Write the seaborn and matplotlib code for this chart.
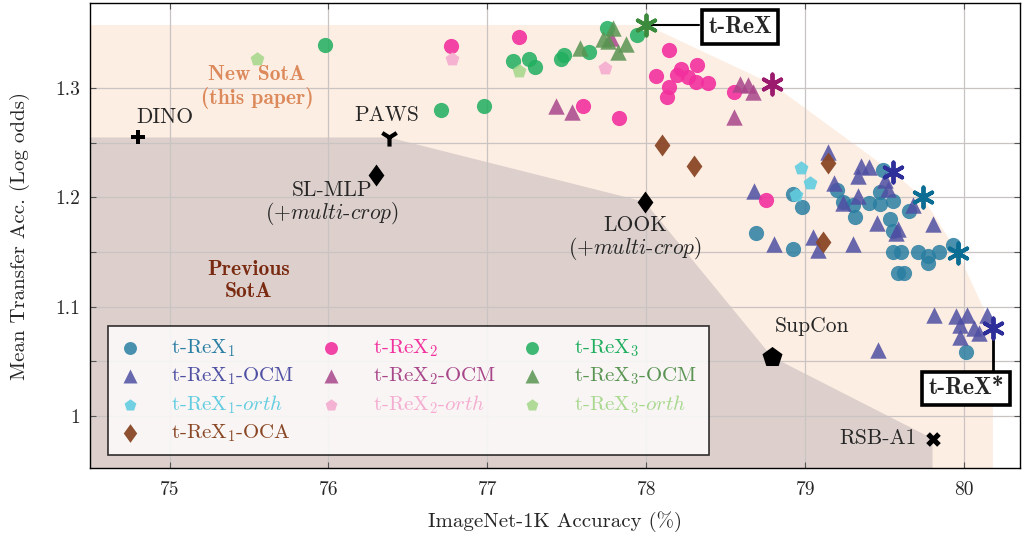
import numpy as np
import pandas as pd
import seaborn as sns
import matplotlib.pyplot as plt

sns.set_theme(style='white')
plt.rcParams['font.family'] = ['cmr10', 'DejaVu Serif']
plt.rcParams['mathtext.fontset'] = 'cm'
plt.rcParams['axes.formatter.use_mathtext'] = True

#%% DATA
rex1_x = [78.92, 78.98, 78.69, 78.92, 79.20, 79.24, 79.30, 79.31, 79.40, 79.47, 79.47, 79.49, 79.55,
          79.53, 79.55, 79.65, 79.55, 79.60, 79.71, 79.77, 79.77, 79.84, 79.93, 79.58, 79.62, 80.01]
rex1_y = [1.203, 1.191, 1.167, 1.153, 1.207, 1.196, 1.193, 1.182, 1.195, 1.194, 1.205, 1.225, 1.197,
          1.180, 1.169, 1.188, 1.150, 1.150, 1.150, 1.146, 1.140, 1.150, 1.156, 1.131, 1.131, 1.058]

rex1_ocm_x = [78.68, 78.80, 79.05, 79.08, 79.14, 79.18, 79.30, 79.24, 79.35, 79.40, 79.33, 79.33, 79.50,
              79.52, 79.68, 79.45, 79.80, 79.58, 79.57, 79.81, 79.95, 80.02, 80.14, 79.97, 80.06, 80.09,
              79.97, 79.46]
rex1_ocm_y = [1.206, 1.157, 1.164, 1.152, 1.242, 1.213, 1.157, 1.195, 1.229, 1.228, 1.220, 1.201, 1.216,
              1.208, 1.193, 1.177, 1.176, 1.171, 1.167, 1.092, 1.091, 1.092, 1.092, 1.083, 1.080, 1.076,
              1.072, 1.060]

rex1_orth_x = [78.97, 79.03, 78.94]
rex1_orth_y = [1.227, 1.213, 1.202]

rex1_oca_x = [78.10, 78.30, 79.14, 79.11]
rex1_oca_y = [1.248, 1.229, 1.232, 1.159]

rex2_x = [76.77, 77.20, 77.60, 77.83, 78.14, 78.06, 78.22, 78.19, 78.26, 78.32, 78.31, 78.39, 78.14,
          78.13, 78.55, 78.75]
rex2_y = [1.339, 1.347, 1.284, 1.273, 1.335, 1.311, 1.318, 1.312, 1.310, 1.321, 1.306, 1.305, 1.301,
          1.292, 1.297, 1.198]

rex2_ocm_x = [77.43, 77.53, 78.59, 78.64, 78.67, 78.55, 77.78]
rex2_ocm_y = [1.284, 1.278, 1.304, 1.303, 1.297, 1.274, 1.346]

rex2_orth_x = [76.78, 77.74]
rex2_orth_y = [1.327, 1.319]

rex3_x = [75.98, 76.71, 76.98, 77.16, 77.26, 77.30, 77.46, 77.48, 77.64, 77.75, 77.94]
rex3_y = [1.340, 1.280, 1.284, 1.325, 1.327, 1.320, 1.327, 1.331, 1.333, 1.355, 1.349]

rex3_ocm_x = [77.58, 77.79, 77.76, 77.87, 77.82, 77.73]
rex3_ocm_y = [1.337, 1.355, 1.343, 1.341, 1.333, 1.345]

rex3_orth_x = [75.55, 77.20]
rex3_orth_y = [1.327, 1.316]

# best models (stars), in frontier order
star_x = [78.00, 78.79, 79.55, 79.74, 79.96, 80.18]
star_y = [1.358, 1.304, 1.223, 1.200, 1.149, 1.080]
star_c = ['#3c8a3c', '#9b1b6e', '#2e2e9a', '#0c6d94', '#0c6d94', '#2e2e9a']

# previous methods
base_names = ['DINO', 'PAWS', 'SL-MLP', 'LOOK', 'SupCon', 'RSB-A1']
base_x = [74.80, 76.38, 76.30, 77.99, 78.79, 79.80]
base_y = [1.255, 1.255, 1.221, 1.196, 1.054, 0.979]

XLIM = (74.5, 80.35)
YLIM = (0.952, 1.378)

# wider diamond than matplotlib's 'd'
DIAMOND = [(0, 1), (0.72, 0), (0, -1), (-0.72, 0), (0, 1)]

#%% PLOT
fig, ax = plt.subplots(figsize=(10.23, 5.35), dpi=100)
fig.subplots_adjust(left=0.088, right=0.997, top=0.994, bottom=0.125)

# new SotA region (through the stars)
px = [XLIM[0], XLIM[0]] + star_x + [star_x[-1]]
py = [YLIM[0], star_y[0]] + star_y + [YLIM[0]]
ax.fill(px, py, color='#fdeee3', lw=0, zorder=0.1)

# previous SotA region (through DINO, PAWS, LOOK, SupCon, RSB-A1)
fr = [0, 1, 3, 4, 5]
gx = [XLIM[0], XLIM[0]] + [base_x[i] for i in fr] + [base_x[5]]
gy = [YLIM[0], base_y[0]] + [base_y[i] for i in fr] + [YLIM[0]]
ax.fill(gx, gy, color='#ddd0cc', lw=0, zorder=0.2)

groups = [
    ('t-ReX$_1$', rex1_x, rex1_y, '#2a7ea2', 'o', 120, 0.85),
    ('t-ReX$_1$-OCM', rex1_ocm_x, rex1_ocm_y, '#4f4fa3', '^', 140, 0.85),
    ('t-ReX$_1$-$\\mathit{orth}$', rex1_orth_x, rex1_orth_y, '#62cde0', 'p', 110, 0.9),
    ('t-ReX$_1$-OCA', rex1_oca_x, rex1_oca_y, '#8a4726', DIAMOND, 250, 0.95),
    ('t-ReX$_2$', rex2_x, rex2_y, '#f2309e', 'o', 120, 0.9),
    ('t-ReX$_2$-OCM', rex2_ocm_x, rex2_ocm_y, '#a8468a', '^', 140, 0.85),
    ('t-ReX$_2$-$\\mathit{orth}$', rex2_orth_x, rex2_orth_y, '#f5acd0', 'p', 110, 0.9),
    ('t-ReX$_3$', rex3_x, rex3_y, '#1fae5e', 'o', 120, 0.85),
    ('t-ReX$_3$-OCM', rex3_ocm_x, rex3_ocm_y, '#5a9452', '^', 140, 0.85),
    ('t-ReX$_3$-$\\mathit{orth}$', rex3_orth_x, rex3_orth_y, '#a8d88e', 'p', 110, 0.9),
]

handles, labels, lcolors = [], [], []
for name, xs, ys, col, mk, sz, al in groups:
    df = pd.DataFrame({'x': xs, 'y': ys})
    sns.scatterplot(data=df, x='x', y='y', color=col, marker=mk, s=sz, alpha=al,
                    linewidth=0, ax=ax, zorder=3)
    handles.append(ax.collections[-1])
    labels.append(name)
    lcolors.append(col)

# stars
for sx, sy, sc in zip(star_x, star_y, star_c):
    sns.scatterplot(x=[sx], y=[sy], color=sc, marker=(6, 2, 0), s=210,
                    linewidth=2.8, edgecolor=sc, ax=ax, zorder=4)

# baselines
base_mk = ['P', '1', DIAMOND, DIAMOND, 'p', 'X']
base_s = [110, 170, 250, 250, 230, 110]
for bx, by, mk, sz in zip(base_x, base_y, base_mk, base_s):
    kw = dict(linewidth=3) if mk == '1' else dict(linewidth=0)
    sns.scatterplot(x=[bx], y=[by], color='black', marker=mk, s=sz, ax=ax, zorder=4, **kw)

# labels for baselines
fs = 15.5
mc = '(+$\\mathit{multi}$-$\\mathit{crop}$)'
ax.text(74.79, 1.2735, 'DINO', fontsize=fs, ha='left', va='center')
ax.text(76.365, 1.275, 'PAWS', fontsize=fs, ha='center', va='center')
ax.text(76.02, 1.194, 'SL-MLP\n' + mc, fontsize=fs, ha='center', va='center',
        multialignment='center', linespacing=1.0)
ax.text(77.93, 1.162, 'LOOK\n' + mc, fontsize=fs, ha='center', va='center',
        multialignment='center', linespacing=1.0)
ax.text(79.04, 1.082, 'SupCon', fontsize=fs, ha='center', va='center')
ax.text(79.70, 0.979, 'RSB-A1', fontsize=fs, ha='right', va='center')

ax.text(75.55, 1.301, 'New SotA\n(this paper)', fontsize=15.5, family='cmb10',
        color='#dc8a5c', ha='center', va='center', linespacing=1.15)
ax.text(75.50, 1.124, 'Previous\nSotA', fontsize=15.5, family='cmb10',
        color='#7a2a10', ha='center', va='center', linespacing=1.15)

# boxed callouts
box = dict(boxstyle='square,pad=0.25', facecolor='white', edgecolor='black', linewidth=2.6)
ax.plot([star_x[0], 78.33], [star_y[0], star_y[0]], color='black', lw=1.5, zorder=3.5)
ax.text(78.59, 1.356, 't-ReX', fontsize=17, family='cmb10', ha='center', va='center',
        bbox=box, zorder=5)
ax.plot([star_x[-1], star_x[-1]], [star_y[-1], 1.042], color='black', lw=2, zorder=3.5)
ax.text(80.01, 1.025, 't-ReX*', fontsize=17, family='cmb10', ha='center', va='center',
        bbox=box, zorder=5)

# axes
ax.set_xlim(XLIM)
ax.set_ylim(YLIM)
ax.set_xticks([75, 76, 77, 78, 79, 80])
ax.set_xticklabels(['75', '76', '77', '78', '79', '80'])
ax.set_yticks([1.0, 1.1, 1.2, 1.3])
ax.set_yticklabels(['1', '1.1', '1.2', '1.3'])
ax.set_yticks([1.05, 1.15, 1.25], minor=True)
ax.tick_params(axis='both', which='both', direction='in', length=4, width=0.8,
               labelsize=14, top=True, right=True, bottom=True, left=True, color='#555555')
ax.tick_params(axis='x', pad=9)
ax.tick_params(axis='y', pad=7)
ax.grid(True, which='both', color='#c9c3c1', lw=0.9)
ax.set_axisbelow(True)
for sp in ax.spines.values():
    sp.set_color('black')
    sp.set_linewidth(1.0)
ax.set_xlabel('ImageNet-1K Accuracy (%)', fontsize=15, labelpad=9)
ax.set_ylabel('Mean Transfer Acc. (Log odds)', fontsize=15, labelpad=18)

leg = ax.legend(handles, labels, ncol=3, loc='lower left', bbox_to_anchor=(0.019, 0.028),
                borderaxespad=0, fontsize=15, frameon=True, fancybox=False,
                handlelength=1.0, handletextpad=1.5, columnspacing=1.25, labelspacing=0.3,
                borderpad=0.55, markerscale=0.85)
leg.get_frame().set_edgecolor('black')
leg.get_frame().set_linewidth(1.2)
leg.get_frame().set_facecolor('#ffffff')
leg.get_frame().set_alpha(0.8)
for t, c in zip(leg.get_texts(), lcolors):
    t.set_color(c)
leg.set_zorder(6)

fig.savefig('out.png', dpi=100)
